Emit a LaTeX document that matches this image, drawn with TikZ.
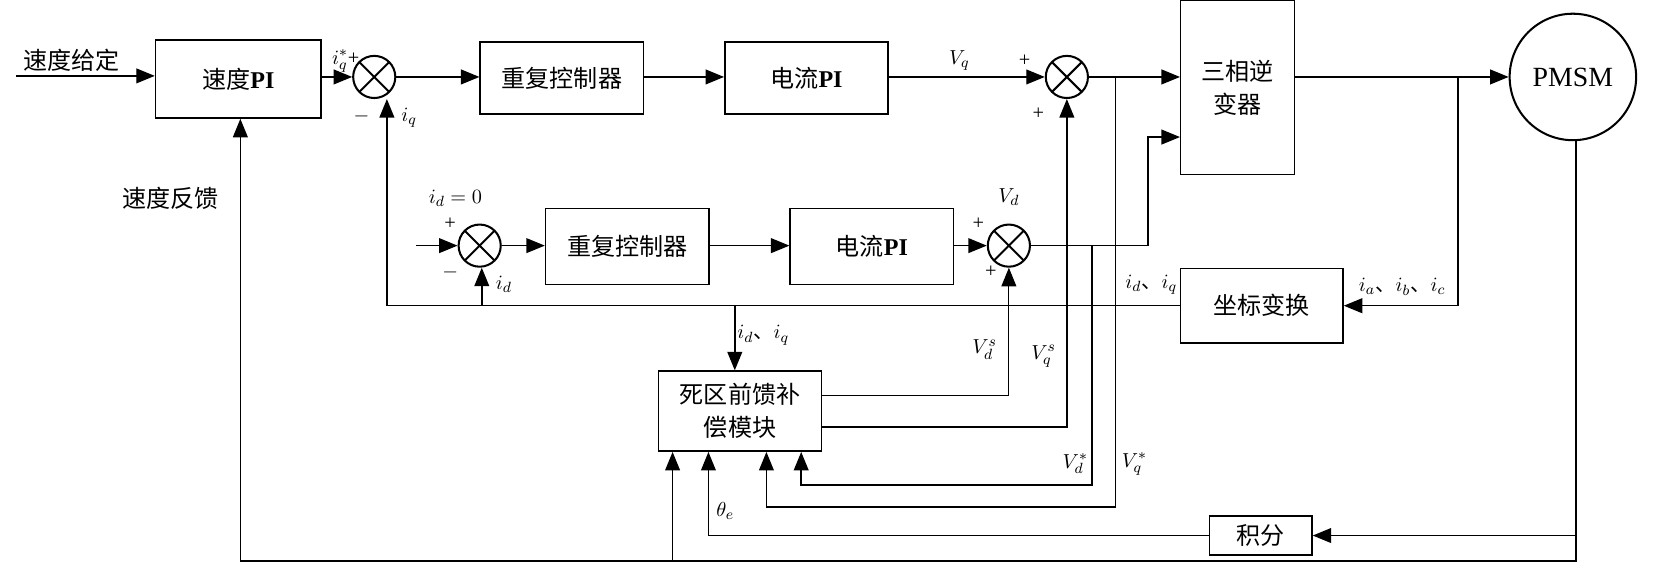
\documentclass[tikz,border=0pt]{standalone}
\usepackage{fontspec}
\setmainfont{Liberation Serif}
\newfontfamily\cjk{Noto Sans CJK SC}
\usetikzlibrary{arrows.meta}
\begin{document}
\begin{tikzpicture}[x=0.02cm,y=-0.02cm,
  line width=0.8pt,
  box/.style={draw,rectangle,inner sep=0pt,align=center,font=\fontsize{13}{18}\selectfont},
  sum/.style={draw,circle,minimum size=0.8cm,inner sep=0pt,line width=1.1pt,
    path picture={\draw[line width=1.1pt] (path picture bounding box.north west)--(path picture bounding box.south east)
    (path picture bounding box.north east)--(path picture bounding box.south west);}},
  ar/.style={-{Triangle[length=10pt,width=8pt]}},
  lab/.style={font=\fontsize{11}{13}\selectfont,inner sep=1pt},
  cn/.style={font=\cjk\fontsize{13}{15}\selectfont}]
\useasboundingbox (0,0) rectangle (1568,550);
% nodes
\node[box,minimum width=3.14cm,minimum height=1.48cm] (spi) at (226,75) {{\cjk 速度}\textbf{PI}};
\node[sum] (s1) at (355,73) {};
\node[box,minimum width=3.1cm,minimum height=1.36cm] (rc1) at (533,74) {\cjk 重复控制器};
\node[box,minimum width=3.1cm,minimum height=1.36cm] (pi1) at (765,74) {{\cjk 电流}\textbf{PI}};
\node[sum] (s2) at (1012,73) {};
\node[box,minimum width=2.16cm,minimum height=3.3cm] (inv) at (1174,83) {\cjk 三相逆\\\cjk 变器};
\node[draw,circle,minimum size=2.4cm,line width=1.1pt,inner sep=0pt,font=\fontsize{15}{17}\selectfont] (pm) at (1492,73) {PMSM};
\node[sum] (s4) at (455,233) {};
\node[box,minimum width=3.1cm,minimum height=1.44cm] (rc2) at (595,234) {\cjk 重复控制器};
\node[box,minimum width=3.1cm,minimum height=1.44cm] (pi2) at (827,234) {{\cjk 电流}\textbf{PI}};
\node[sum] (s3) at (957,233) {};
\node[box,minimum width=3.08cm,minimum height=1.42cm] (ct) at (1197,290) {\cjk 坐标变换};
\node[box,minimum width=3.1cm,minimum height=1.52cm] (dz) at (702,390) {\cjk 死区前馈补\\\cjk 偿模块};
\node[box,minimum width=1.94cm,minimum height=0.74cm] (int) at (1196,508) {\cjk 积分};
% coordinates
\coordinate (in0) at (15,72);
\coordinate (din) at (395,233);
% top chain
\draw[ar] (in0) -- (in0 -| spi.west);
\draw[ar] (spi.east |- s1) -- (s1.west);
\draw[ar] (s1.east) -- (rc1.west |- s1);
\draw[ar] (rc1.east |- s1) -- (pi1.west |- s1);
\draw[ar] (pi1.east |- s2) -- (s2.west);
\draw[ar] (s2.east) -- (inv.west |- s2);
\draw[ar] (inv.east |- s2) -- (pm.west);
% d chain
\draw[ar] (din) -- (s4.west);
\draw[ar] (s4.east) -- (rc2.west |- s4);
\draw[ar] (rc2.east |- s4) -- (pi2.west |- s4);
\draw[ar] (pi2.east |- s3) -- (s3.west);
\draw[ar] (s3.east) -- (1089,233) -- (1089,130) -- (inv.west |- 0,130);
% current feedback
\draw[ar] (1383,73) -- (1383,290) -- (ct.east);
\draw[ar] (ct.west) -- (367,290) -- (s1.south -| 367,0);
\draw[ar] (457,290) -- (s4.south -| 457,0);
\draw[ar] (697,290) -- (dz.north -| 697,0);
% compensation outputs
\draw[ar,line width=0.6pt] (dz.east |- 0,375) -- (957,375) -- (s3.south);
\draw[ar] (dz.east |- 0,405) -- (1012,405) -- (s2.south);
% V* loops
\draw[ar] (1036,233) -- (1036,460) -- (760,460) -- (dz.south -| 760,0);
\draw[ar] (1058,73) -- (1058,481) -- (727,481) -- (dz.south -| 727,0);
% speed / theta
\draw[ar] (pm.south -| 1495,0) -- (1495,508) -- (int.east);
\draw[ar,line width=0.6pt] (int.west) -- (672,508) -- (dz.south -| 672,0);
\draw[ar] (1495,508) -- (1495,532) -- (228,532) -- (spi.south -| 228,0);
\draw[ar] (638,532) -- (dz.south -| 638,0);
% labels
\node[cn] (t1) at (68,57) {速度给定};
\node[cn] (t2) at (162,188) {速度反馈};
\node[lab] (l1) at (328,58) {$i_q^*$+};
\node[lab] (l2) at (343,110) {$-$};
\node[lab] (l3) at (388,112) {$i_q$};
\node[lab] (l4) at (910,57) {$V_q$};
\node[lab] (l5) at (972,58) {+};
\node[lab] (l6) at (985,108) {+};
\node[lab] (l7) at (432,188) {$i_d=0$};
\node[lab] (l8) at (427,212) {+};
\node[lab] (l9) at (427,258) {$-$};
\node[lab] (l10) at (478,270) {$i_d$};
\node[lab] (l11) at (957,187) {$V_d$};
\node[lab] (l12) at (928,212) {+};
\node[lab] (l13) at (940,258) {+};
\node[lab] (l14) at (1092,270) {$i_d${\cjk 、}$i_q$};
\node[lab] (l15) at (1330,272) {$i_a${\cjk 、}$i_b${\cjk 、}$i_c$};
\node[lab] (l16) at (724,318) {$i_d${\cjk 、}$i_q$};
\node[lab] (l17) at (934,332) {$V_d^s$};
\node[lab] (l18) at (990,338) {$V_q^s$};
\node[lab] (l19) at (1020,440) {$V_d^*$};
\node[lab] (l20) at (1076,440) {$V_q^*$};
\node[lab] (l21) at (688,485) {$\theta_e$};
\end{tikzpicture}
\end{document}
